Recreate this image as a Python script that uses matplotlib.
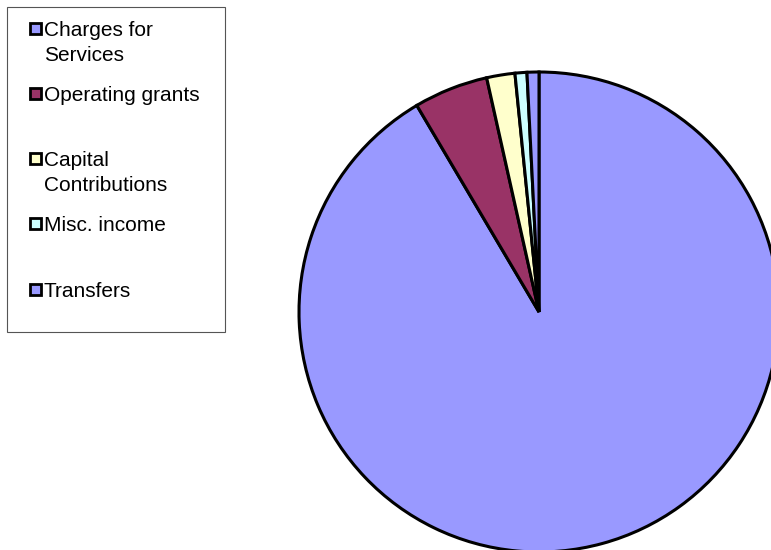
import matplotlib
matplotlib.use("Agg")
import matplotlib.pyplot as plt
from matplotlib.patches import Rectangle

categories = ["Charges for Services", "Operating grants", "Capital Contributions",
              "Misc. income", "Transfers"]
legend_labels = ["Charges for\nServices", "Operating grants", "Capital\nContributions",
                 "Misc. income", "Transfers"]
values = [91.5, 5.0, 1.9, 0.8, 0.8]
colors = ["#9999FF", "#993366", "#FFFFCC", "#CCFFFF", "#9999FF"]

W, H = 771, 550
fig = plt.figure(figsize=(W / 100, H / 100), dpi=100)
ax = fig.add_axes([0, 0, 1, 1])
ax.pie(values, colors=colors, startangle=90, counterclock=False,
       center=(539, H - 312), radius=240,
       wedgeprops=dict(edgecolor="black", linewidth=2.2, joinstyle="miter"))
ax.set_xlim(0, W)
ax.set_ylim(0, H)
ax.set_aspect("equal")
ax.axis("off")

# legend box
ax.add_patch(Rectangle((7, H - 332), 218, 325, facecolor="white",
                       edgecolor="#555555", linewidth=0.8, zorder=5))
entry_y = [28, 93, 158, 223, 289]
line_gap = 25
for lab, col, y in zip(legend_labels, colors, entry_y):
    ax.add_patch(Rectangle((30, H - y - 5.5), 11, 11, facecolor=col,
                           edgecolor="black", linewidth=2.0, zorder=6))
    for i, line in enumerate(lab.split("\n")):
        ax.text(44, H - y - 8 - i * line_gap, line, fontsize=15,
                family="Liberation Sans", va="baseline", ha="left", zorder=6)

fig.savefig("out.png", dpi=100)
